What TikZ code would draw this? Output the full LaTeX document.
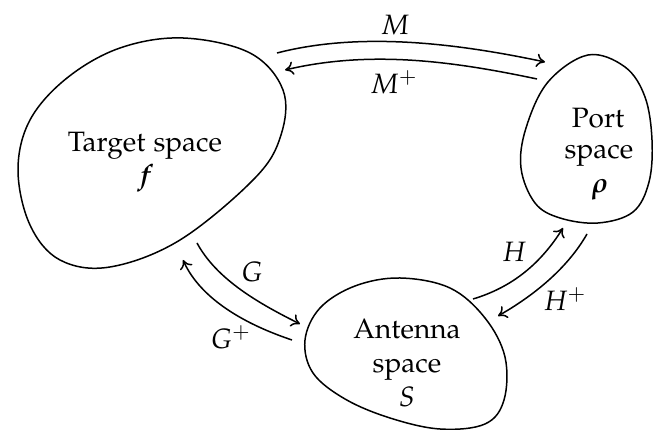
\documentclass[tikz,border=0pt]{standalone}
\usepackage[T1]{fontenc}
\usepackage[sc]{mathpazo}
\usepackage{bm}
\usetikzlibrary{arrows.meta}
\tikzset{
  blob/.style={draw, line width=0.6pt},
  map/.style={draw, line width=0.6pt, -{To[length=3.4pt,width=5.4pt]}},
  textline/.style={anchor=base, inner sep=0pt, font=\fontsize{11.2}{13}\selectfont},
  maplabel/.style={inner sep=0pt, font=\fontsize{11.2}{13}\selectfont},
}
\begin{document}
\begin{tikzpicture}[x=0.4pt, y=-0.4pt]
\useasboundingbox (0,0) rectangle (653,430);
% blobs
\draw[blob] plot[smooth cycle, tension=0.6] coordinates {
  (183,38) (250,53) (283,90) (281,135) (255,178) (180,240) (110,267)
  (60,260) (30,225) (18,170) (30,120) (67,78) (120,48)};
\draw[blob] plot[smooth cycle, tension=0.6] coordinates {
  (588,55) (625,67) (645,97) (652,140) (649,182) (633,212) (598,223)
  (560,218) (535,203) (521,168) (526,128) (548,82)};
\draw[blob] plot[smooth cycle, tension=0.6] coordinates {
  (400,278) (450,288) (485,318) (505,357) (504,400) (485,424) (440,429)
  (390,418) (345,399) (313,373) (305,340) (320,308) (355,286)};
% texts
\node[textline] (t1) at (145,152) {Target space};
\node[textline] (t2) at (145,185) {$\bm{f}$};
\node[textline] (p1) at (598,128) {Port};
\node[textline] (p2) at (599,159) {space};
\node[textline] (p3) at (600,193) {$\bm{\rho}$};
\node[textline] (a1) at (407,339) {Antenna};
\node[textline] (a2) at (407,373) {space};
\node[textline] (a3) at (407,407) {$S$};
% connector ends
\coordinate (tM1) at (277,53);  \coordinate (pM1) at (545,62);
\coordinate (pM2) at (537,79);  \coordinate (tM2) at (285,70);
\coordinate (tG1) at (197,243); \coordinate (aG1) at (300,324);
\coordinate (aG2) at (292,340); \coordinate (tG2) at (183,260);
\coordinate (aH1) at (473,299); \coordinate (pH1) at (563,228);
\coordinate (pH2) at (587,234); \coordinate (aH2) at (498,316);
% connectors
\draw[map] (tM1) .. controls +(85,-22) and +(-85,-18) .. (pM1);
\draw[map] (pM2) .. controls +(-85,-18) and +(85,-20) .. (tM2);
\draw[map] (tG1) .. controls +(20,37) and +(-40,-20) .. (aG1);
\draw[map] (aG2) .. controls +(-45,-15) and +(18,40) .. (tG2);
\draw[map] (aH1) .. controls +(40,-12) and +(-22,35) .. (pH1);
\draw[map] (pH2) .. controls +(-20,35) and +(35,-20) .. (aH2);
% labels
\node[maplabel] (lM) at (395,25) {$M$};
\node[maplabel] (lMp) at (394,82) {$M^{+}$};
\node[maplabel] (lG) at (252,272) {$G$};
\node[maplabel] (lGp) at (231,337) {$G^{+}$};
\node[maplabel] (lH) at (514,252) {$H$};
\node[maplabel] (lHp) at (565,299) {$H^{+}$};
\end{tikzpicture}
\end{document}
